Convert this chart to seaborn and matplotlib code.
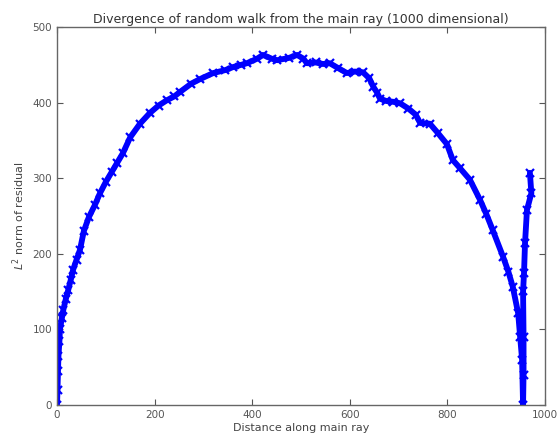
import pandas as pd
import matplotlib
matplotlib.use('Agg')
import matplotlib.pyplot as plt
import seaborn as sns

# Values (distance along ray, L2 norm of residual)
distance = [0, 1, 2, 3, 5, 6, 10, 13, 18, 23, 28, 33, 40, 47, 55, 65, 78, 88,
            100, 112, 123, 135, 150, 170, 190, 208, 225, 240, 252, 275, 293,
            320, 345, 361, 378, 389, 410, 422, 440, 451, 475, 492, 505,
            512, 530, 545, 559, 575, 594, 610, 627, 640, 648, 656, 662, 675,
            689, 703, 720, 735, 744, 764, 780, 799, 811, 826, 846, 867, 880,
            893, 914, 925, 934, 945, 949, 953, 955, 956, 956, 955, 957, 959,
            963, 972, 969]
residual = [0, 20, 45, 65, 85, 100, 115, 126, 140, 152, 165, 179, 192, 205,
            230, 248, 265, 280, 295, 308, 320, 333, 354, 372, 386, 396, 403,
            408, 414, 425, 431, 439, 443, 447, 450, 452, 458, 463, 458, 456,
            459, 463, 458, 452, 453, 451, 452, 446, 439, 441, 440, 432,
            421, 413, 405, 402, 401, 399, 392, 384, 373, 372, 360, 345, 324,
            313, 298, 271, 252, 231, 196, 176, 156, 121, 90, 60, 0, 40, 90,
            150, 175, 214, 258, 280, 307]

df = pd.DataFrame({'distance': distance, 'residual': residual})

sns.set_style('ticks')
plt.rcParams['font.family'] = ['DejaVu Sans']
plt.rcParams['xtick.direction'] = 'in'
plt.rcParams['ytick.direction'] = 'in'
plt.rcParams['xtick.top'] = True
plt.rcParams['ytick.right'] = True

fig = plt.figure(figsize=(5.59, 4.42), dpi=100)
ax = fig.add_axes([0.102, 0.084, 0.873, 0.855])

# estimator=None keeps the walk's own order (the hook doubles back in x)
sns.lineplot(data=df, x='distance', y='residual', sort=False, ax=ax,
             estimator=None, color='#0000ff', linewidth=4.2, marker='x',
             markersize=6, markeredgewidth=1.6, markeredgecolor='#0000ff',
             solid_joinstyle='round', solid_capstyle='round')

ax.set_xlim(0, 1000)
ax.set_ylim(0, 500)
ax.set_xticks(range(0, 1001, 200))
ax.set_yticks(range(0, 501, 100))
ax.tick_params(labelsize=7.5, colors='#555555', length=4, width=0.8)
for s in ax.spines.values():
    s.set_color('#666666')
    s.set_linewidth(1.0)

ax.set_title('Divergence of random walk from the main ray (1000 dimensional)',
             fontsize=9, color='#333333', pad=3)
ax.set_xlabel('Distance along main ray', fontsize=8, color='#444444', labelpad=2)
ax.set_ylabel(r'$L^2$ norm of residual', fontsize=8, color='#444444', labelpad=4)

fig.savefig('out.png', dpi=100)
